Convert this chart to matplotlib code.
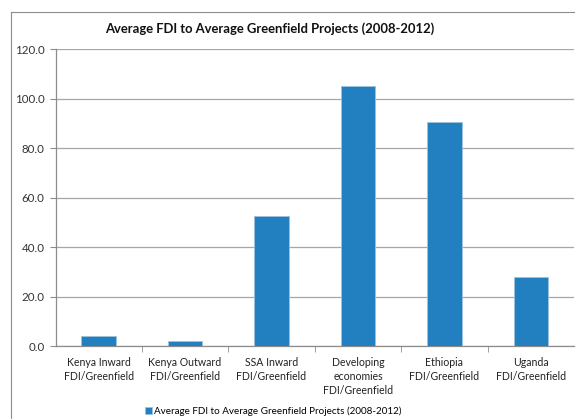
import numpy as np
import matplotlib.pyplot as plt
from matplotlib.lines import Line2D

categories = ['Kenya Inward\nFDI/Greenfield', 'Kenya Outward\nFDI/Greenfield',
              'SSA Inward\nFDI/Greenfield', 'Developing\neconomies\nFDI/Greenfield',
              'Ethiopia\nFDI/Greenfield', 'Uganda\nFDI/Greenfield']
values = [3.9, 1.9, 52.5, 105.1, 90.6, 28.1]
yticks = [0, 20, 40, 60, 80, 100, 120]
title = 'Average FDI to Average Greenfield Projects (2008-2012)'

plt.rcParams['font.family'] = ['Lato', 'DejaVu Sans']

W, H = 576, 419
fig = plt.figure(figsize=(W / 100, H / 100), dpi=100)
ax = fig.add_axes([55.5 / W, 73 / H, (W - 57.5) / W, 296.7 / H])

# chart border: only the left and top edges fall inside the image
bx, by = 10.5 / W, 1 - 12.5 / H
fig.add_artist(Line2D([bx, bx], [0, by], transform=fig.transFigure,
                      color='#8c8c8c', linewidth=0.8))
fig.add_artist(Line2D([bx, (W - 2) / W], [by, by], transform=fig.transFigure,
                      color='#8c8c8c', linewidth=0.8))

x = np.arange(len(categories))
ax.bar(x, values, width=0.4, color='#2280c0', edgecolor='#9cc3e0',
       linewidth=0.6, zorder=3, label=title)

ax.set_xlim(-0.5, len(categories) - 0.5)
ax.set_ylim(0, 120)
ax.set_yticks(yticks)
ax.set_yticklabels(['%.1f' % v for v in yticks], fontsize=8.3, color='#333333')
ax.grid(axis='y', color='#a6a6a6', linewidth=0.9, zorder=0)

ax.set_xticks(x)
ax.set_xticklabels(categories, fontsize=7.6, color='#222222', linespacing=1.3)
ax.set_xticks(np.arange(len(categories) - 1) + 0.5, minor=True)
ax.tick_params(axis='x', which='major', length=0, pad=8)
ax.tick_params(axis='x', which='minor', length=4, color='#8c8c8c')
ax.tick_params(axis='y', length=4, color='#8c8c8c', pad=4)

for side in ['top', 'right']:
    ax.spines[side].set_visible(False)
for side in ['left', 'bottom']:
    ax.spines[side].set_color('#8c8c8c')
    ax.spines[side].set_linewidth(0.9)

fig.text(270 / W, 1 - 29 / H, title, ha='center', va='center',
         fontsize=9.4, fontweight='bold', color='#111111')

fig.legend(loc='center', bbox_to_anchor=(273 / W, 1 - 411.5 / H),
           frameon=False, fontsize=7.1, handlelength=0.7, handleheight=0.7,
           handletextpad=0.2, borderpad=0)

fig.savefig('out.png', dpi=100)
